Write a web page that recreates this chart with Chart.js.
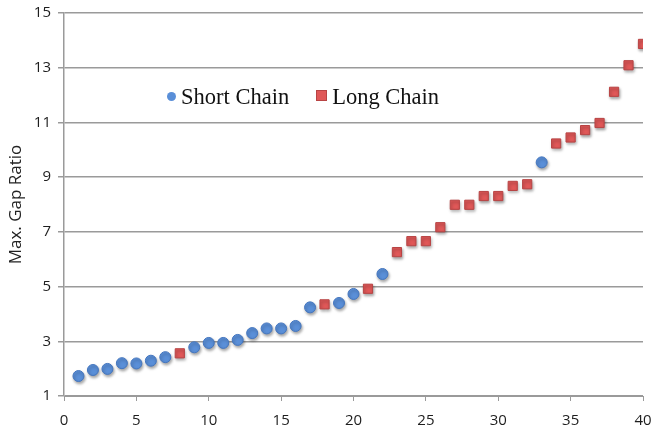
<!DOCTYPE html>
<html>
<head>
<meta charset="utf-8">
<script src="https://cdn.jsdelivr.net/npm/chart.js@4/dist/chart.umd.min.js"></script>
<style>
  body { margin: 0; background: #fff; }
  #wrap { position: relative; width: 653px; height: 432px; }
  #legend { position: absolute; left: 167px; top: 84px; font-family: "Liberation Serif", "Times New Roman", serif; font-size: 22.5px; color: #111; white-space: nowrap; }
  #legend span.item { display: inline-block; margin-right: 27px; }
  #legend i { display: inline-block; width: 9px; height: 9px; margin-right: 5px; vertical-align: 3px; }
  #legend i.dot { border-radius: 50%; background: #5a8fd8; }
  #legend i.sq { background: #e05858; border: 1px solid #b84444; width: 9px; height: 9px; }
</style>
</head>
<body>
<div id="wrap">
  <canvas id="chart" width="653" height="432"></canvas>
  <div id="legend"><span class="item"><i class="dot"></i>Short Chain</span><span class="item"><i class="sq"></i>Long Chain</span></div>
</div>
<script>
// Short chain points
const shortX = [1, 2, 3, 4, 5, 6, 7, 9, 10, 11, 12, 13, 14, 15, 16, 17, 19, 20, 22, 33];
const shortY = [1.73, 1.95, 1.99, 2.2, 2.19, 2.29, 2.42, 2.78, 2.94, 2.94, 3.05, 3.3, 3.47, 3.47, 3.56, 4.24, 4.4, 4.73, 5.46, 9.54];
// Long chain points
const longX = [8, 18, 21, 23, 24, 25, 26, 27, 28, 29, 30, 31, 32, 34, 35, 36, 37, 38, 39, 40];
const longY = [2.56, 4.35, 4.92, 6.26, 6.66, 6.66, 7.17, 7.99, 7.99, 8.31, 8.31, 8.68, 8.74, 10.23, 10.45, 10.72, 10.98, 12.12, 13.09, 13.87];

const yTicks = [1, 3, 5, 7, 9, 11, 13, 15];
const xTicks = [0, 5, 10, 15, 20, 25, 30, 35, 40];

const tickFont = { family: 'Open Sans', size: 15 };
const tickColor = '#1e1e1e';
const gridColor = '#9a9a9a';

// soft shadow under the markers, like the office chart
const shadowPlugin = {
    id: 'markerShadow',
    beforeDatasetsDraw(chart) {
        const ctx = chart.ctx;
        ctx.save();
        ctx.shadowColor = 'rgba(0,0,0,0.35)';
        ctx.shadowBlur = 3;
        ctx.shadowOffsetX = 1;
        ctx.shadowOffsetY = 2;
    },
    afterDatasetsDraw(chart) {
        chart.ctx.restore();
    }
};

new Chart(document.getElementById('chart'), {
    type: 'scatter',
    data: {
        datasets: [
            {
                label: 'Short Chain',
                data: shortX.map((x, i) => ({ x: x, y: shortY[i] })),
                pointStyle: 'circle',
                pointRadius: 5.5,
                backgroundColor: '#5a8fd8',
                borderColor: '#4476bf',
                borderWidth: 1
            },
            {
                label: 'Long Chain',
                data: longX.map((x, i) => ({ x: x, y: longY[i] })),
                pointStyle: 'rect',
                pointRadius: 6.5,
                backgroundColor: '#e05858',
                borderColor: '#b84444',
                borderWidth: 1
            }
        ]
    },
    options: {
        responsive: false,
        animation: false,
        layout: { padding: { top: 13, right: 10, left: 0, bottom: 0 } },
        plugins: {
            legend: { display: false },
            tooltip: { enabled: false }
        },
        scales: {
            x: {
                type: 'linear',
                min: 0,
                max: 40,
                afterBuildTicks: axis => { axis.ticks = xTicks.map(v => ({ value: v })); },
                afterFit: axis => {
                    axis.height = 36;
                    axis.paddingLeft = 0;
                    axis.paddingRight = 0;
                },
                grid: { drawOnChartArea: false, drawTicks: true, tickLength: 5, color: gridColor },
                border: { color: gridColor, width: 1 },
                ticks: { font: tickFont, color: tickColor, padding: 11, maxRotation: 0 }
            },
            y: {
                min: 1,
                max: 15,
                afterBuildTicks: axis => { axis.ticks = yTicks.map(v => ({ value: v })); },
                afterFit: axis => {
                    axis.width = 64;
                    axis.paddingTop = 0;
                    axis.paddingBottom = 0;
                },
                grid: { color: gridColor, lineWidth: 1.5, drawTicks: true, tickLength: 6 },
                border: { color: gridColor, width: 1.5 },
                ticks: { font: tickFont, color: tickColor, padding: 7 },
                title: {
                    display: true,
                    text: 'Max. Gap Ratio',
                    font: { family: 'Open Sans', size: 17 },
                    color: '#222',
                    padding: { top: 6, bottom: 0 }
                }
            }
        }
    },
    plugins: [shadowPlugin]
});
</script>
</body>
</html>
